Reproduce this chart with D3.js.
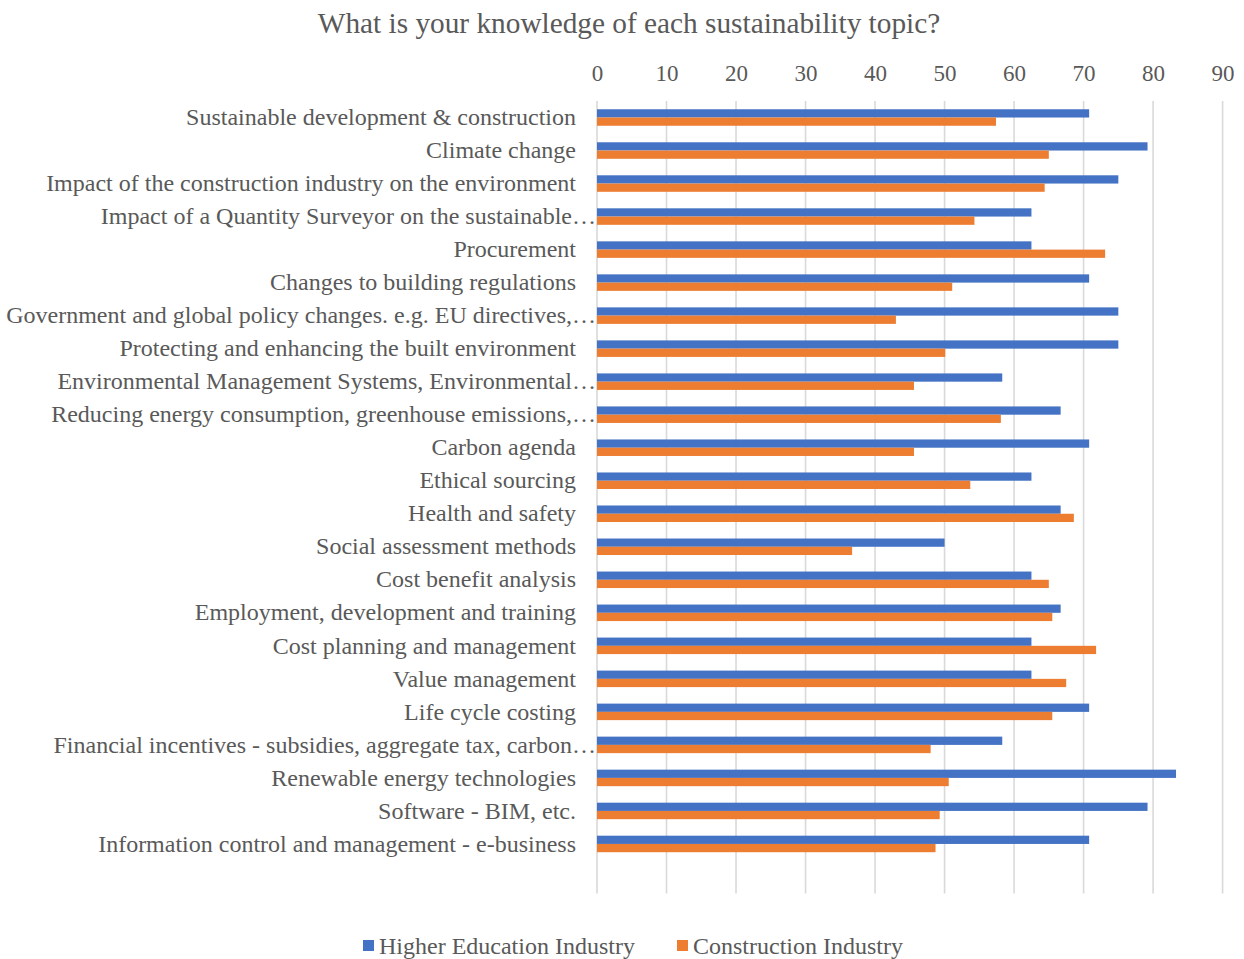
<!DOCTYPE html>
<html>
<head>
<meta charset="utf-8">
<script src="https://cdn.jsdelivr.net/npm/d3@7/dist/d3.min.js"></script>
<style>
  html, body { margin: 0; padding: 0; background: #ffffff; }
  svg { display: block; }
  text { font-family: "Liberation Serif", "Times New Roman", serif; fill: #595959; }
</style>
</head>
<body>
<svg id="chart" width="1244" height="959"></svg>
<script>
// Survey topics, top to bottom
const topics = [
  "Sustainable development & construction",
  "Climate change",
  "Impact of the construction industry on the environment",
  "Impact of a Quantity Surveyor on the sustainable…",
  "Procurement",
  "Changes to building regulations",
  "Government and global policy changes. e.g. EU directives,…",
  "Protecting and enhancing the built environment",
  "Environmental Management Systems, Environmental…",
  "Reducing energy consumption, greenhouse emissions,…",
  "Carbon agenda",
  "Ethical sourcing",
  "Health and safety",
  "Social assessment methods",
  "Cost benefit analysis",
  "Employment, development and training",
  "Cost planning and management",
  "Value management",
  "Life cycle costing",
  "Financial incentives - subsidies, aggregate tax, carbon…",
  "Renewable energy technologies",
  "Software - BIM, etc.",
  "Information control and management - e-business"
];

const seriesNames = ["Higher Education Industry", "Construction Industry"];
const seriesColors = ["#4472C4", "#ED7D31"];

const higherEducation = [
  70.8, 79.2, 75.0, 62.5, 62.5, 70.8, 75.0, 75.0, 58.3, 66.7, 70.8, 62.5,
  66.7, 50.0, 62.5, 66.7, 62.5, 62.5, 70.8, 58.3, 83.3, 79.2, 70.8
];
const constructionIndustry = [
  57.4, 65.0, 64.4, 54.3, 73.1, 51.1, 43.0, 50.1, 45.6, 58.1, 45.6, 53.7,
  68.6, 36.7, 65.0, 65.5, 71.8, 67.5, 65.5, 48.0, 50.6, 49.3, 48.7
];

const tickValues = [0, 10, 20, 30, 40, 50, 60, 70, 80, 90];
const chartTitle = "What is your knowledge of each sustainability topic?";

const rows = topics.map((t, i) => ({
  topic: t,
  values: [higherEducation[i], constructionIndustry[i]]
}));

const svg = d3.select("#chart");
const serif = '"Liberation Serif", "Times New Roman", serif';

// plot frame
const plotLeft = 597, plotRight = 1222.6, plotTop = 101, rowStep = 33.02;
const plotBottom = plotTop + rowStep * topics.length;
const gridBottom = plotBottom + rowStep;

const x = d3.scaleLinear().domain([0, 90]).range([plotLeft, plotRight]);
const y = d3.scaleBand().domain(topics).range([plotTop, plotBottom]).padding(0);
const ySub = d3.scaleBand().domain([0, 1]).range([0, y.bandwidth()])
  .paddingInner(0).paddingOuter(1.0);

// title
svg.append("text")
  .attr("x", 629).attr("y", 23)
  .attr("text-anchor", "middle").attr("dominant-baseline", "central")
  .style("font-size", "29.3px")
  .text(chartTitle);

// vertical gridlines
svg.append("g").selectAll("line")
  .data(tickValues)
  .join("line")
  .attr("x1", d => x(d)).attr("x2", d => x(d))
  .attr("y1", plotTop).attr("y2", gridBottom)
  .attr("stroke", "#D9D9D9").attr("stroke-width", 1.6);

// top value axis labels
const xAxis = d3.axisTop(x).tickValues(tickValues).tickSize(0).tickPadding(0);
const gx = svg.append("g").attr("transform", "translate(0,73)").call(xAxis);
gx.select(".domain").remove();
gx.selectAll("text")
  .attr("dy", "0.35em")
  .style("font-family", serif)
  .style("font-size", "23px")
  .attr("fill", "#595959");

// category labels; truncated ones run up to the axis line
const yAxis = d3.axisLeft(y).tickSize(0).tickPadding(21);
const gy = svg.append("g").attr("transform", `translate(${plotLeft},0)`).call(yAxis);
gy.select(".domain").remove();
gy.selectAll("text")
  .style("font-family", serif)
  .style("font-size", "24px")
  .attr("fill", "#595959")
  .attr("x", d => d.endsWith("…") ? -1 : -21);

// bars
const groups = svg.append("g").selectAll("g")
  .data(rows)
  .join("g")
  .attr("transform", d => `translate(0,${y(d.topic)})`);

groups.selectAll("rect")
  .data(d => d.values.map((v, k) => ({ v, k })))
  .join("rect")
  .attr("x", x(0))
  .attr("y", d => ySub(d.k))
  .attr("width", d => x(d.v) - x(0))
  .attr("height", ySub.bandwidth())
  .attr("fill", d => seriesColors[d.k]);

// legend
const legend = svg.append("g").attr("transform", "translate(0,946)");
const legendX = [363, 677];
seriesNames.forEach((name, k) => {
  legend.append("rect")
    .attr("x", legendX[k]).attr("y", -6)
    .attr("width", 11).attr("height", 11)
    .attr("fill", seriesColors[k]);
  legend.append("text")
    .attr("x", legendX[k] + 16).attr("y", 0)
    .attr("dominant-baseline", "central")
    .style("font-size", "24px")
    .text(name);
});
</script>
</body>
</html>
